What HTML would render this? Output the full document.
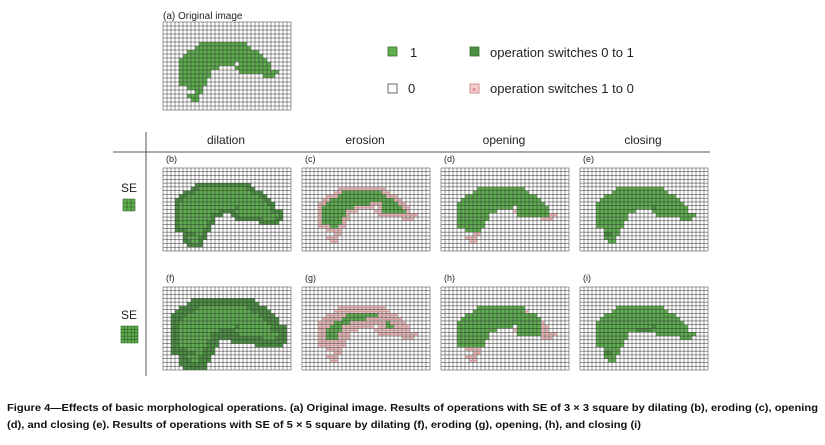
<!DOCTYPE html>
<html><head><meta charset="utf-8"><style>
body{margin:0;background:#fff;width:825px;height:440px;overflow:hidden}
text{font-family:"Liberation Sans",sans-serif}
</style></head><body>
<svg id="fig" width="825" height="440" xmlns="http://www.w3.org/2000/svg">
<text x="163" y="19" font-size="10" fill="#222">(a) Original image</text>
<g>
<rect x="388" y="47" width="9" height="9" fill="#5fae4f" stroke="#3a6e30" stroke-width="0.8"/>
<text x="410" y="57" font-size="13" fill="#222">1</text>
<rect x="388" y="84" width="9" height="9" fill="#fff" stroke="#444" stroke-width="0.8"/>
<text x="408" y="93" font-size="13" fill="#222">0</text>
<rect x="470" y="47" width="9" height="9" fill="#4a8f42" stroke="#3a6e30" stroke-width="0.8"/>
<text x="490" y="57" font-size="13" fill="#222">operation switches 0 to 1</text>
<rect x="470" y="84" width="9" height="9" fill="#f3d0d0" stroke="#c77" stroke-width="0.8"/>
<text x="472" y="92" font-size="7" fill="#c44">×</text>
<text x="490" y="93" font-size="13" fill="#222">operation switches 1 to 0</text>
</g>
<line x1="146" y1="132" x2="146" y2="376" stroke="#555" stroke-width="1"/>
<line x1="113" y1="152" x2="710" y2="152" stroke="#555" stroke-width="1"/>
<text x="226" y="144" font-size="12" text-anchor="middle" fill="#222">dilation</text>
<text x="365" y="144" font-size="12" text-anchor="middle" fill="#222">erosion</text>
<text x="504" y="144" font-size="12" text-anchor="middle" fill="#222">opening</text>
<text x="643" y="144" font-size="12" text-anchor="middle" fill="#222">closing</text>
<text x="129" y="192" font-size="12" text-anchor="middle" fill="#222">SE</text>
<text x="129" y="319" font-size="12" text-anchor="middle" fill="#222">SE</text>
<text x="7" y="411" font-size="10.5" font-weight="bold" fill="#111" textLength="811" lengthAdjust="spacingAndGlyphs">Figure 4—Effects of basic morphological operations. (a) Original image. Results of operations with SE of 3 × 3 square by dilating (b), eroding (c), opening</text>
<text x="7" y="428" font-size="10.5" font-weight="bold" fill="#111" textLength="634" lengthAdjust="spacingAndGlyphs">(d), and closing (e). Results of operations with SE of 5 × 5 square by dilating (f), eroding (g), opening, (h), and closing (i)</text>
</svg>
<script>
const originalRows = [
"................................",
"................................",
"................................",
"................................",
"................................",
".........############...........",
"........##############..........",
"......##################........",
".....####################.......",
"....######################......",
"....##############.########.....",
"....##########....#########.....",
"....########.......##########...",
"....########.............###....",
"....#######.....................",
"....#######.....................",
"......####......................",
"........##......................",
"......###.......................",
".......##.......................",
"................................",
"................................"
];
const panelLabels = ["(b)","(c)","(d)","(e)","(f)","(g)","(h)","(i)"];
const panelOps = ["dilate","erode","open","close","dilate","erode","open","close"];
const panelSE = [3,3,3,3,5,5,5,5];

const svg = document.getElementById('fig');
const NS = 'http://www.w3.org/2000/svg';
const ROWS = originalRows.length, COLS = originalRows[0].length;
const orig = originalRows.map(r => r.split('').map(c => c === '#' ? 1 : 0));

function dilate(m, k){const h=(k-1)/2;return m.map((row,i)=>row.map((v,j)=>{for(let a=-h;a<=h;a++)for(let b=-h;b<=h;b++){const y=i+a,x=j+b;if(y>=0&&y<ROWS&&x>=0&&x<COLS&&m[y][x])return 1;}return 0;}));}
function erode(m, k){const h=(k-1)/2;return m.map((row,i)=>row.map((v,j)=>{for(let a=-h;a<=h;a++)for(let b=-h;b<=h;b++){const y=i+a,x=j+b;if(y<0||y>=ROWS||x<0||x>=COLS||!m[y][x])return 0;}return 1;}));}
function apply(op,k){if(op==='dilate')return dilate(orig,k);if(op==='erode')return erode(orig,k);if(op==='open')return dilate(erode(orig,k),k);return erode(dilate(orig,k),k);}

function el(tag, attrs){const e=document.createElementNS(NS,tag);for(const k in attrs)e.setAttribute(k,attrs[k]);return e;}

function drawGrid(x0,y0,w,h,result,name){
  const g = el('g',{});
  
  
  const cw=w/COLS, ch=h/ROWS;
  for(let i=0;i<ROWS;i++)for(let j=0;j<COLS;j++){
    const o=orig[i][j], r=result[i][j];
    let fill=null;
    if(r&&o) fill='#5fae4f'; else if(r&&!o) fill='#4a8f42'; else if(!r&&o) fill='#f3d0d0';
    if(fill){
      const c=el('rect',{x:x0+j*cw,y:y0+i*ch,width:cw,height:ch,fill:fill});
      
      
      g.appendChild(c);
      if(!r&&o){const t=el('circle',{cx:x0+j*cw+cw/2,cy:y0+i*ch+ch/2,r:0.8,fill:'#d77'});
        
        
        g.appendChild(t);}
    }
  }
  let d='';
  for(let j=0;j<=COLS;j++){d+=`M${x0+j*cw} ${y0}V${y0+h}`;}
  for(let i=0;i<=ROWS;i++){d+=`M${x0} ${y0+i*ch}H${x0+w}`;}
  const p=el('path',{d:d,stroke:'#333','stroke-width':0.5,fill:'none'});
  
  
  g.appendChild(p);
  svg.appendChild(g);
}

drawGrid(163,22,128,88,orig,'original-image-grid');
const colX=[163,302,441,580], rowY=[168,287];
for(let n=0;n<8;n++){
  const cx=colX[n%4], cy=rowY[Math.floor(n/4)];
  const t=el('text',{x:cx+3,y:cy-6,'font-size':9,fill:'#222'});
  t.textContent=panelLabels[n];
  
  
  svg.appendChild(t);
  drawGrid(cx,cy,128,83,apply(panelOps[n],panelSE[n]),'panel-grid');
}
function seIcon(x,y,k,size){
  const g=el('g',{});
  
  
  g.appendChild(el('rect',{x:x,y:y,width:size,height:size,fill:'#5fae4f'}));
  let d='';const s=size/k;
  for(let i=0;i<=k;i++){d+=`M${x+i*s} ${y}V${y+size}M${x} ${y+i*s}H${x+size}`;}
  g.appendChild(el('path',{d:d,stroke:'#2d5a25','stroke-width':0.6,fill:'none'}));
  svg.appendChild(g);
}
seIcon(123,199,3,12);
seIcon(121,326,5,17);
</script>
</body></html>
